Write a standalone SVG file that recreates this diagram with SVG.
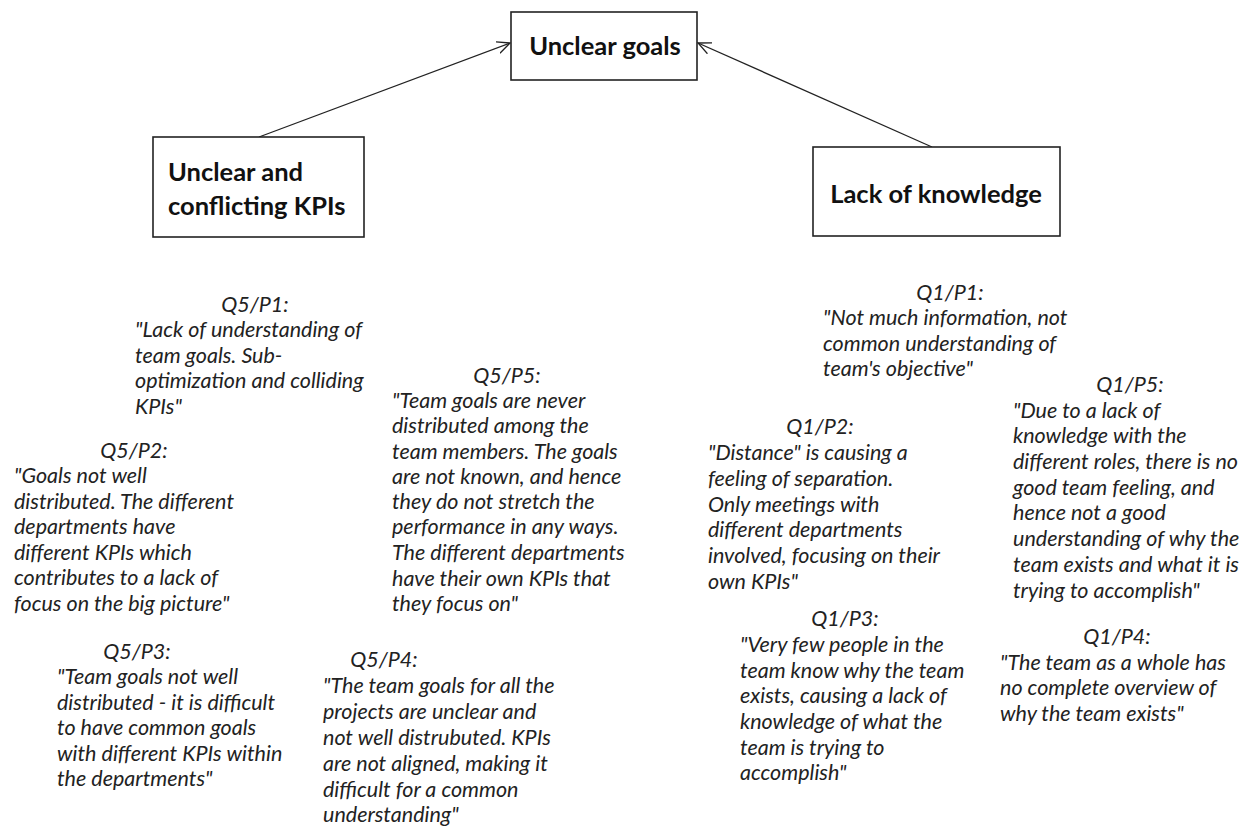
<svg xmlns="http://www.w3.org/2000/svg" width="1260" height="826" viewBox="0 0 1260 826">
<style>
.box{fill:#fff;stroke:#222;stroke-width:1.6}
.bt{font-family:Lato,"Liberation Sans",sans-serif;font-weight:bold;font-size:25.5px;fill:#111}
.q{font-family:Lato,"Liberation Sans",sans-serif;font-style:italic;font-size:21.5px;fill:#222}
.h{text-anchor:middle}
.conn{stroke:#222;stroke-width:1.3;fill:none}
</style>
<defs>
<marker id="arr" viewBox="0 0 14 14" refX="13" refY="7" markerWidth="14" markerHeight="14" markerUnits="userSpaceOnUse" orient="auto">
<path d="M0,1 L13,7 L0,13" fill="none" stroke="#222" stroke-width="1.3"/>
</marker>
</defs>
<g id="connectors">
<line class="conn" x1="259" y1="137" x2="510" y2="43" marker-end="url(#arr)"/>
<line class="conn" x1="932" y1="147" x2="698" y2="43" marker-end="url(#arr)"/>
</g>
<g id="n-goals">
<rect class="box" x="511" y="12" width="186" height="68"/>
<text class="bt h" x="605" y="55">Unclear goals</text>
</g>
<g id="n-kpis">
<rect class="box" x="153" y="137" width="211" height="100"/>
<text class="bt" x="168" y="181">Unclear and</text>
<text class="bt" x="168" y="215">conflicting KPIs</text>
</g>
<g id="n-know">
<rect class="box" x="813" y="147" width="247" height="89"/>
<text class="bt h" x="936" y="203">Lack of knowledge</text>
</g>
<g id="q5p1" class="q">
<text class="h" x="255" y="312">Q5/P1:</text>
<text x="135" y="337">"Lack of understanding of</text>
<text x="135" y="363">team goals. Sub-</text>
<text x="135" y="388">optimization and colliding</text>
<text x="135" y="414">KPIs"</text>
</g>
<g id="q5p2" class="q">
<text class="h" x="134" y="458">Q5/P2:</text>
<text x="14" y="483">"Goals not well</text>
<text x="14" y="509">distributed. The different</text>
<text x="14" y="534">departments have</text>
<text x="14" y="560">different KPIs which</text>
<text x="14" y="585">contributes to a lack of</text>
<text x="14" y="611">focus on the big picture"</text>
</g>
<g id="q5p3" class="q">
<text class="h" x="137" y="659">Q5/P3:</text>
<text x="57" y="684">"Team goals not well</text>
<text x="57" y="710">distributed - it is difficult</text>
<text x="57" y="735">to have common goals</text>
<text x="57" y="761">with different KPIs within</text>
<text x="57" y="786">the departments"</text>
</g>
<g id="q5p5" class="q">
<text class="h" x="507" y="383">Q5/P5:</text>
<text x="392" y="408">"Team goals are never</text>
<text x="392" y="433">distributed among the</text>
<text x="392" y="459">team members. The goals</text>
<text x="392" y="484">are not known, and hence</text>
<text x="392" y="509">they do not stretch the</text>
<text x="392" y="534">performance in any ways.</text>
<text x="392" y="560">The different departments</text>
<text x="392" y="586">have their own KPIs that</text>
<text x="392" y="611">they focus on"</text>
</g>
<g id="q5p4" class="q">
<text class="h" x="384" y="667">Q5/P4:</text>
<text x="323" y="693">"The team goals for all the</text>
<text x="323" y="719">projects are unclear and</text>
<text x="323" y="745">not well distrubuted. KPIs</text>
<text x="323" y="771">are not aligned, making it</text>
<text x="323" y="797">difficult for a common</text>
<text x="323" y="822">understanding"</text>
</g>
<g id="q1p1" class="q">
<text class="h" x="950" y="300">Q1/P1:</text>
<text x="823" y="325">"Not much information, not</text>
<text x="823" y="351">common understanding of</text>
<text x="823" y="376">team's objective"</text>
</g>
<g id="q1p2" class="q">
<text class="h" x="820" y="434">Q1/P2:</text>
<text x="708" y="460">"Distance" is causing a</text>
<text x="708" y="486">feeling of separation.</text>
<text x="708" y="512">Only meetings with</text>
<text x="708" y="537">different departments</text>
<text x="708" y="563">involved, focusing on their</text>
<text x="708" y="589">own KPIs"</text>
</g>
<g id="q1p3" class="q">
<text class="h" x="845" y="626">Q1/P3:</text>
<text x="740" y="652">"Very few people in the</text>
<text x="740" y="678">team know why the team</text>
<text x="740" y="703">exists, causing a lack of</text>
<text x="740" y="729">knowledge of what the</text>
<text x="740" y="755">team is trying to</text>
<text x="740" y="780">accomplish"</text>
</g>
<g id="q1p5" class="q">
<text class="h" x="1130" y="392">Q1/P5:</text>
<text x="1013" y="418">"Due to a lack of</text>
<text x="1013" y="443">knowledge with the</text>
<text x="1013" y="469">different roles, there is no</text>
<text x="1013" y="495">good team feeling, and</text>
<text x="1013" y="520">hence not a good</text>
<text x="1013" y="546">understanding of why the</text>
<text x="1013" y="572">team exists and what it is</text>
<text x="1013" y="598">trying to accomplish"</text>
</g>
<g id="q1p4" class="q">
<text class="h" x="1117" y="644">Q1/P4:</text>
<text x="1000" y="670">"The team as a whole has</text>
<text x="1000" y="695">no complete overview of</text>
<text x="1000" y="721">why the team exists"</text>
</g>
</svg>
